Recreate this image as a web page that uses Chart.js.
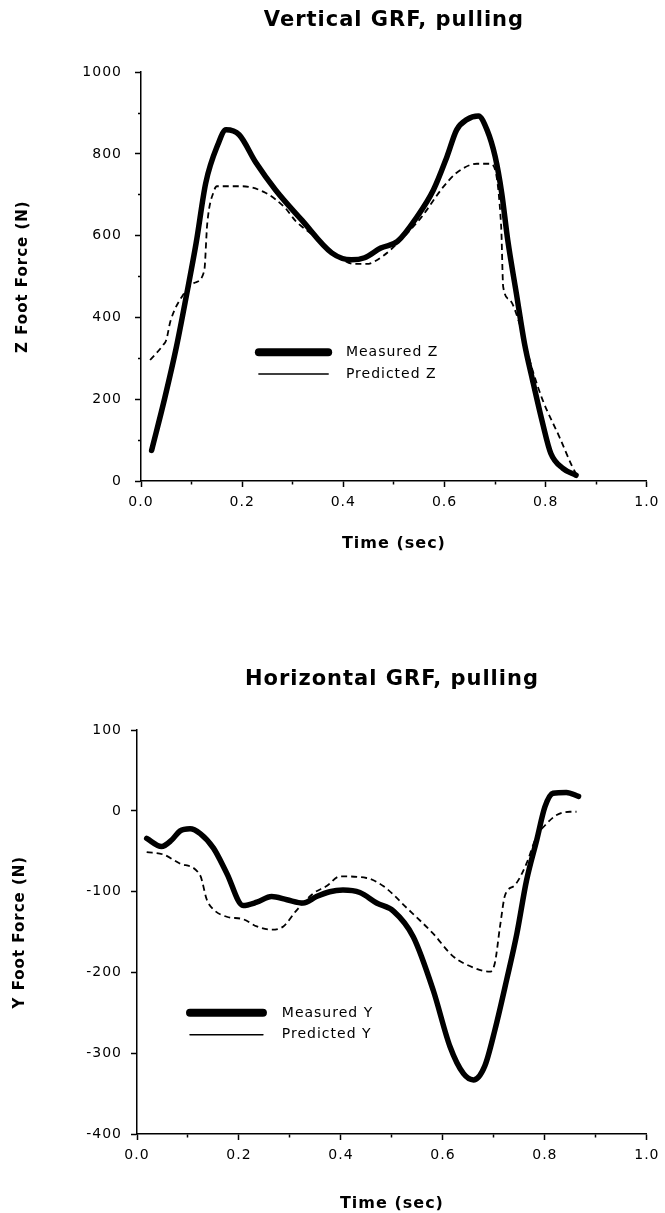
<!DOCTYPE html>
<html>
<head>
<meta charset="utf-8">
<script src="https://cdn.jsdelivr.net/npm/chart.js@4.4.1/dist/chart.umd.min.js"></script>
<style>
  body { margin: 0; background: #fff; }
  .box { position: absolute; left: 0; }
</style>
</head>
<body>
<div class="box" style="top:0"><canvas id="vertical" width="665" height="560"></canvas></div>
<div class="box" style="top:600px"><canvas id="horizontal" width="665" height="613"></canvas></div>
<script>
// vertical GRF (N) vs time (sec)
const timeZMeasured = [0.021, 0.047, 0.07, 0.09, 0.109, 0.128, 0.152, 0.168, 0.194, 0.227, 0.266, 0.318, 0.377, 0.416, 0.442, 0.474, 0.507, 0.546, 0.578, 0.605, 0.624, 0.644, 0.667, 0.684, 0.7, 0.713, 0.725, 0.742, 0.758, 0.774, 0.794, 0.81, 0.834, 0.86];
const forceZMeasured = [75, 203, 328, 455, 582, 729, 823, 859, 847, 779, 712, 638, 558, 541, 546, 570, 586, 647, 712, 794, 859, 884, 893, 859, 794, 705, 589, 459, 337, 247, 141, 68, 31, 14];
const timeZPredicted = [0.018, 0.044, 0.05, 0.058, 0.083, 0.106, 0.125, 0.131, 0.145, 0.15, 0.2, 0.246, 0.285, 0.305, 0.346, 0.388, 0.421, 0.446, 0.479, 0.512, 0.554, 0.598, 0.624, 0.664, 0.69, 0.712, 0.716, 0.729, 0.748, 0.774, 0.794, 0.827, 0.853, 0.862];
const forceZPredicted = [296, 333, 345, 390, 455, 485, 514, 630, 712, 721, 721, 705, 668, 637, 596, 551, 531, 531, 551, 588, 645, 720, 754, 776, 776, 622, 475, 443, 386, 271, 198, 108, 34, 14];

// horizontal GRF (N) vs time (sec)
const timeYMeasured = [0.019, 0.048, 0.068, 0.084, 0.104, 0.124, 0.15, 0.176, 0.208, 0.235, 0.264, 0.294, 0.326, 0.352, 0.378, 0.404, 0.437, 0.47, 0.503, 0.542, 0.581, 0.614, 0.64, 0.66, 0.682, 0.702, 0.725, 0.745, 0.764, 0.784, 0.8, 0.816, 0.842, 0.866];
const forceYMeasured = [-34, -44, -36, -25, -22, -28, -46, -77, -117, -113, -106, -110, -114, -106, -100, -98, -101, -114, -124, -156, -222, -292, -325, -333, -316, -271, -209, -152, -86, -36, 5, 22, 23, 18];
const timeYPredicted = [0.019, 0.052, 0.084, 0.124, 0.137, 0.15, 0.176, 0.208, 0.235, 0.264, 0.287, 0.313, 0.346, 0.372, 0.398, 0.45, 0.483, 0.529, 0.581, 0.62, 0.66, 0.692, 0.702, 0.712, 0.722, 0.741, 0.764, 0.784, 0.8, 0.823, 0.849, 0.862];
const forceYPredicted = [-51, -54, -65, -80, -110, -122, -131, -134, -143, -147, -143, -123, -102, -93, -81, -83, -93, -120, -152, -180, -194, -199, -188, -143, -104, -92, -65, -31, -18, -5, -1, -1];

Chart.defaults.font.family = 'DejaVu Sans';
Chart.defaults.color = '#000';

// short minor ticks, kept against the axis line
const MINOR_DASH_X = [3, 20];
const MINOR_DASH_Y = [0, 3, 3, 20];

function toPoints(xs, ys) {
  return xs.map(function(x, i) {
    return { x: x, y: ys[i] };
  });
}

const spacingPlugin = {
  id: 'spacing',
  beforeDraw: (chart) => { chart.ctx.letterSpacing = '1px'; },
  afterDraw: (chart) => { chart.ctx.letterSpacing = '0px'; }
};

// legend sitting inside the plot, placed in data units
const innerLegend = {
  id: 'innerLegend',
  afterDraw: (chart, args, opts) => {
    const ctx = chart.ctx;
    const xs = chart.scales.x;
    const ys = chart.scales.y;
    const x0 = xs.getPixelForValue(opts.x0);
    const x1 = xs.getPixelForValue(opts.x1);
    const xt = xs.getPixelForValue(opts.xText);
    ctx.save();
    ctx.letterSpacing = '1px';
    ctx.strokeStyle = '#000';
    ctx.lineCap = 'round';
    opts.items.forEach(function(item) {
      const y = ys.getPixelForValue(item.y);
      ctx.lineWidth = item.width;
      ctx.beginPath();
      ctx.moveTo(x0, y);
      ctx.lineTo(x1, y);
      ctx.stroke();
      ctx.font = '14px "DejaVu Sans"';
      ctx.fillStyle = '#000';
      ctx.textBaseline = 'middle';
      ctx.fillText(item.text, xt, y);
    });
    ctx.restore();
  }
};

function makeChart(id, cfg) {
  const ctx = document.getElementById(id).getContext('2d');
  return new Chart(ctx, {
    type: 'line',
    plugins: [spacingPlugin, innerLegend],
    data: {
      datasets: [
        {
          label: cfg.measuredLabel,
          data: toPoints(cfg.tm, cfg.fm),
          borderColor: '#000',
          borderWidth: 5.5,
          borderCapStyle: 'round',
          borderJoinStyle: 'round',
          cubicInterpolationMode: 'monotone',
          pointRadius: 0,
          fill: false
        },
        {
          label: cfg.predictedLabel,
          data: toPoints(cfg.tp, cfg.fp),
          borderColor: '#000',
          borderWidth: 1.8,
          borderDash: [6, 4],
          cubicInterpolationMode: 'monotone',
          pointRadius: 0,
          fill: false
        }
      ]
    },
    options: {
      responsive: false,
      animation: false,
      devicePixelRatio: 1,
      layout: { padding: { left: 0, right: cfg.padRight, top: 0, bottom: 0 } },
      plugins: {
        legend: { display: false },
        tooltip: { enabled: false },
        title: {
          display: true,
          text: cfg.title,
          fullSize: false,
          font: { size: 21, weight: 'bold' },
          padding: { top: cfg.titleTop, bottom: cfg.titleBottom }
        },
        innerLegend: cfg.legend
      },
      scales: {
        x: {
          type: 'linear',
          min: 0,
          max: 1,
          afterFit: (scale) => { scale.height = 79; },
          border: { display: true, color: '#000', width: 1.5 },
          grid: {
            drawOnChartArea: false,
            drawTicks: true,
            tickLength: 6,
            tickColor: '#000',
            tickWidth: 1.5,
            tickBorderDash: (c) => (Math.round(c.tick.value * 10) % 2 === 0 ? [] : MINOR_DASH_X)
          },
          ticks: {
            stepSize: 0.1,
            autoSkip: false,
            maxRotation: 0,
            padding: cfg.xTickPad,
            font: { size: 14 },
            callback: (v) => (Math.round(v * 10) % 2 === 0 ? Number(v).toFixed(1) : '')
          },
          title: {
            display: true,
            text: 'Time (sec)',
            font: { size: 16, weight: 'bold' },
            padding: { top: 0, bottom: cfg.xTitlePad }
          }
        },
        y: {
          min: cfg.yMin,
          max: cfg.yMax,
          afterFit: (scale) => { scale.width = cfg.yWidth; },
          border: { display: true, color: '#000', width: 1.5 },
          grid: {
            drawOnChartArea: false,
            drawTicks: true,
            tickLength: 6,
            tickColor: '#000',
            tickWidth: 1.5,
            tickBorderDash: (c) => (c.tick.value % cfg.yLabelStep === 0 ? [] : MINOR_DASH_Y)
          },
          ticks: {
            stepSize: cfg.yStep,
            autoSkip: false,
            padding: cfg.yTickPad,
            font: { size: 14 },
            callback: (v) => (v % cfg.yLabelStep === 0 ? String(v) : '')
          },
          title: {
            display: true,
            text: cfg.yTitle,
            font: { size: 15, weight: 'bold' },
            padding: { top: cfg.yTitlePad, bottom: 0 }
          }
        }
      }
    }
  });
}

makeChart('vertical', {
  title: 'Vertical GRF, pulling',
  yTitle: 'Z Foot Force (N)',
  measuredLabel: 'Measured Z',
  predictedLabel: 'Predicted Z',
  tm: timeZMeasured, fm: forceZMeasured,
  tp: timeZPredicted, fp: forceZPredicted,
  yMin: 0, yMax: 1000, yStep: 100, yLabelStep: 200,
  yWidth: 141, padRight: 13,
  titleTop: 8, titleBottom: 39,
  xTickPad: 7, xTitlePad: 7, yTickPad: 13, yTitlePad: 14,
  legend: {
    x0: 0.233, x1: 0.37, xText: 0.405,
    items: [
      { text: 'Measured Z', y: 315, width: 8 },
      { text: 'Predicted Z', y: 262, width: 1.5 }
    ]
  }
});

makeChart('horizontal', {
  title: 'Horizontal GRF, pulling',
  yTitle: 'Y Foot Force (N)',
  measuredLabel: 'Measured Y',
  predictedLabel: 'Predicted Y',
  tm: timeYMeasured, fm: forceYMeasured,
  tp: timeYPredicted, fp: forceYPredicted,
  yMin: -400, yMax: 100, yStep: 100, yLabelStep: 100,
  yWidth: 137, padRight: 18,
  titleTop: 67, titleBottom: 38,
  xTickPad: 7, xTitlePad: 0, yTickPad: 9, yTitlePad: 11,
  legend: {
    x0: 0.104, x1: 0.247, xText: 0.284,
    items: [
      { text: 'Measured Y', y: -250, width: 8 },
      { text: 'Predicted Y', y: -277, width: 1.5 }
    ]
  }
});
</script>
</body>
</html>
